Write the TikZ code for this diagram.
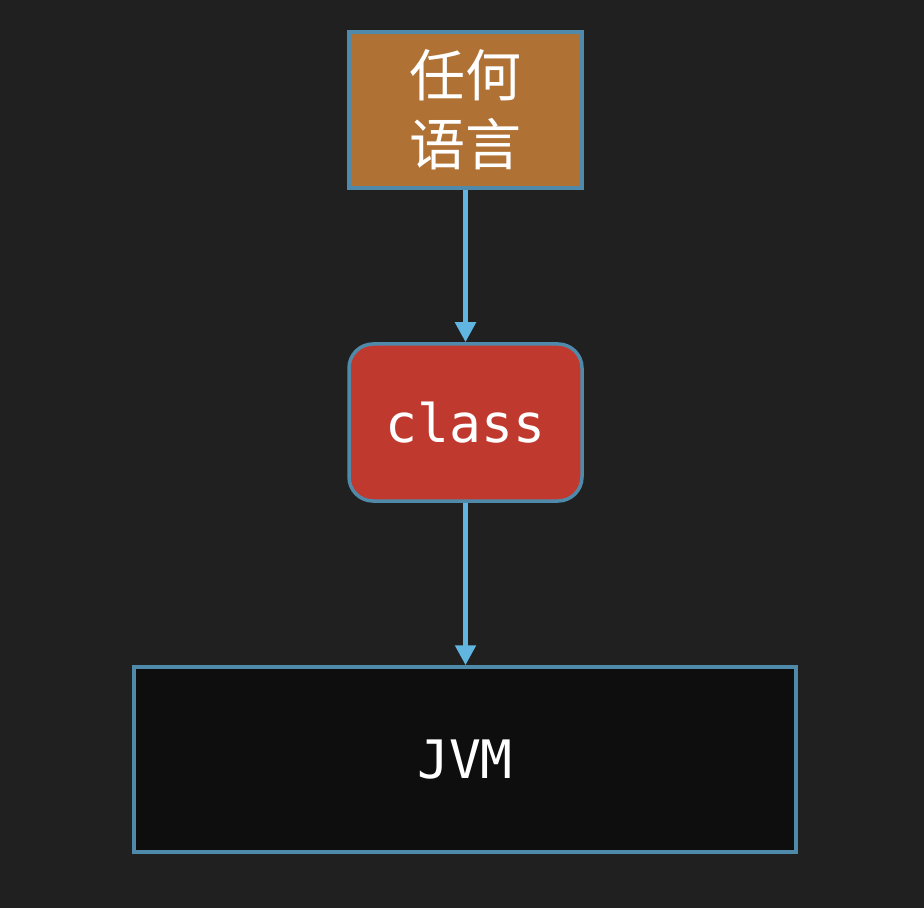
\documentclass[tikz,border=0pt]{standalone}
\usepackage{fontspec}
\setmonofont{DejaVu Sans Mono}
\newfontfamily\cjk{Noto Sans CJK SC}
\usetikzlibrary{positioning}
\usetikzlibrary{arrows.meta}
\definecolor{bg}{RGB}{32, 32, 32}
\definecolor{edge}{RGB}{80, 138, 170}
\definecolor{langfill}{RGB}{176, 113, 52}
\definecolor{classfill}{RGB}{192, 57, 47}
\definecolor{jvmfill}{RGB}{14, 14, 14}
\definecolor{arrowc}{RGB}{96, 182, 225}

\begin{document}
\begin{tikzpicture}[every node/.style={inner sep=0pt, text=white}]
\fill [bg] (0pt, 0pt) rectangle (462pt, -454pt);
\useasboundingbox (0pt, 0pt) rectangle (462pt, -454pt);
\node (lang) [rectangle, minimum width=116.5pt, minimum height=78pt, fill=langfill, line width=1.75pt, draw=edge, align=center, font=\fontsize{28}{34.5}\selectfont\cjk] at (232.75pt, -55pt) {任何\\语言};
\node (cls) [rectangle, rounded corners=12pt, minimum width=116.5pt, minimum height=78.5pt, fill=classfill, line width=1.75pt, draw=edge, font=\fontsize{26.5}{30}\selectfont\ttfamily] at (232.75pt, -211.25pt) {class};
\node (jvm) [rectangle, minimum width=331pt, minimum height=92.5pt, fill=jvmfill, line width=1.75pt, draw=edge, font=\fontsize{26.5}{30}\selectfont\ttfamily] at (232.5pt, -379.75pt) {\raisebox{-2pt}{JVM}};
\draw [line width=2.75pt, color=arrowc, -{Triangle[length=10pt, width=10pt]}] (lang) to (cls);
\draw [line width=2.75pt, color=arrowc, -{Triangle[length=10pt, width=10pt]}] (cls) to (cls |- jvm.north);
\end{tikzpicture}
\end{document}
